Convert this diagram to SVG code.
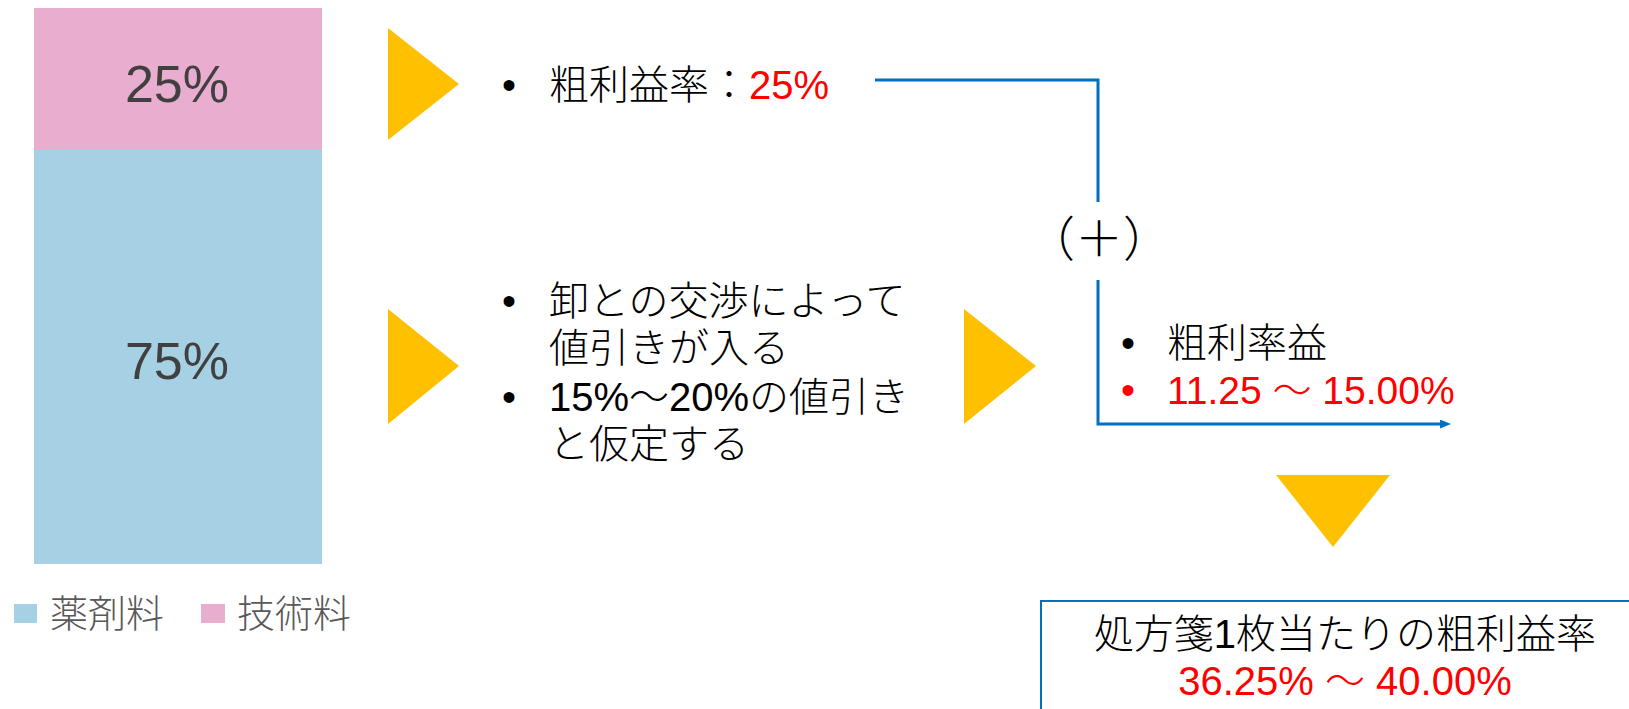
<svg xmlns="http://www.w3.org/2000/svg" width="1629" height="709" viewBox="0 0 1629 709">
<style>
.t{font-family:"Liberation Sans","Noto Sans CJK JP",sans-serif;font-size:40px;fill:#000;font-weight:300}
.red{fill:#FF0000}
.pct{font-family:"Liberation Sans","Noto Sans CJK JP",sans-serif;font-size:52px;fill:#404040;text-anchor:middle}
.leg{font-family:"Liberation Sans","Noto Sans CJK JP",sans-serif;font-size:38px;fill:#595959;font-weight:300}
.tri{fill:#FFC000}
.conn{fill:none;stroke:#0070C0;stroke-width:3}
</style>
<defs>
<marker id="arr" markerWidth="11" markerHeight="9" refX="0" refY="4.5" orient="auto" markerUnits="userSpaceOnUse">
<path d="M0,0 L11,4.5 L0,9 Z" fill="#0070C0"/>
</marker>
</defs>
<rect width="1629" height="709" fill="#fff"/>
<g id="bar">
<rect x="34" y="8" width="288" height="142" fill="#E9ADCF"/>
<rect x="34" y="150" width="288" height="414" fill="#A6D0E4"/>
<text class="pct" x="177" y="102">25%</text>
<text class="pct" x="177" y="379">75%</text>
</g>
<g id="legend">
<rect x="14" y="604" width="23" height="19" fill="#A6D0E4"/>
<text class="leg" x="50" y="627">薬剤料</text>
<rect x="201" y="604" width="24" height="19" fill="#E9ADCF"/>
<text class="leg" x="237" y="627">技術料</text>
</g>
<g id="arrows">
<polygon class="tri" points="388,28 459,84 388,140"/>
<polygon class="tri" points="388,309 459,366 388,424"/>
<polygon class="tri" points="964,309 1036,366 964,424"/>
<polygon class="tri" points="1276,475 1390,475 1333,547"/>
</g>
<g id="node-gross">
<text class="t" x="509" y="99" text-anchor="middle">•</text>
<text class="t" x="549" y="99">粗利益率：<tspan class="red">25%</tspan></text>
</g>
<g id="node-discount">
<text class="t" x="509" y="315" text-anchor="middle">•</text>
<text class="t" x="549" y="315">卸との交渉によって</text>
<text class="t" x="549" y="362">値引きが入る</text>
<text class="t" x="509" y="411" text-anchor="middle">•</text>
<text class="t" x="549" y="411">15%～20%の値引き</text>
<text class="t" x="549" y="458">と仮定する</text>
</g>
<g id="node-plus">
<text class="t" x="1099" y="256" text-anchor="middle" style="font-size:48px">（＋）</text>
</g>
<g id="node-rate">
<text class="t" x="1128" y="357" text-anchor="middle">•</text>
<text class="t" x="1167" y="357">粗利率益</text>
<text class="t red" x="1128" y="404" text-anchor="middle">•</text>
<text class="t red" x="1167" y="404" style="font-size:39px">11.25 ～ 15.00%</text>
</g>
<g id="connectors">
<polyline class="conn" points="875,80 1098,80 1098,202"/>
<polyline class="conn" points="1098,280 1098,424 1440,424" marker-end="url(#arr)"/>
</g>
<g id="node-result">
<rect x="1041" y="601" width="620" height="200" fill="#fff" stroke="#0070C0" stroke-width="2"/>
<text class="t" x="1345" y="648" text-anchor="middle">処方箋1枚当たりの粗利益率</text>
<text class="t red" x="1345" y="695" text-anchor="middle">36.25% ～ 40.00%</text>
</g>
</svg>
